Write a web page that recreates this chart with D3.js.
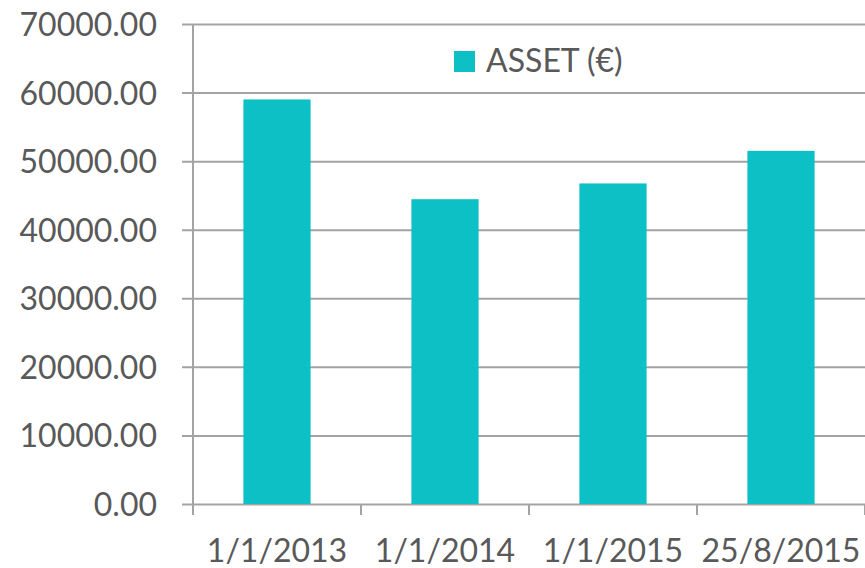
<!DOCTYPE html>
<html>
<head>
<meta charset="utf-8">
<script src="https://cdn.jsdelivr.net/npm/d3@7"></script>
<style>
  body { margin: 0; background: #fff; }
  text { font-family: Lato, "Open Sans", sans-serif; fill: #595959; }
</style>
</head>
<body>
<svg width="865" height="568"></svg>
<script>
var categories = ['1/1/2013', '1/1/2014', '1/1/2015', '25/8/2015'];
var assetValues = [59000, 44450, 46750, 51500];
var yTicks = [0, 10000, 20000, 30000, 40000, 50000, 60000, 70000];
var seriesName = 'ASSET (€)';

var svg = d3.select('svg');
var plotLeft = 193, plotRight = 865, plotTop = 24, plotBottom = 504;
var barColor = '#0CC0C5', gridColor = '#a3a3a3';

var x = d3.scaleBand()
          .domain(categories)
          .range([plotLeft, plotRight])
          .paddingInner(0.6)
          .paddingOuter(0.3);

var y = d3.scaleLinear()
          .domain([0, 70000])
          .range([plotBottom, plotTop]);

// gridlines + y labels
var yAxis = svg.append('g')
  .attr('transform', 'translate(' + plotLeft + ',0)')
  .call(d3.axisLeft(y).tickValues(yTicks).tickSize(11).tickPadding(25).tickFormat(d3.format('.2f')));
yAxis.select('.domain').remove();
yAxis.selectAll('line')
  .attr('x1', -11)
  .attr('x2', plotRight - plotLeft)
  .attr('stroke', gridColor)
  .attr('stroke-width', 2);
yAxis.selectAll('text')
  .style('font-size', '32px')
  .style('fill', '#595959')
  .attr('dy', '0.36em');

// vertical axis line
svg.append('line')
  .attr('x1', plotLeft).attr('x2', plotLeft)
  .attr('y1', plotTop).attr('y2', plotBottom + 11)
  .attr('stroke', gridColor)
  .attr('stroke-width', 2);

// category ticks at band edges
var edges = categories.map((c, i) => plotLeft + i * x.step());
edges.push(plotRight);
svg.selectAll('line.xtick')
  .data(edges)
  .enter()
  .append('line')
    .attr('class', 'xtick')
    .attr('x1', d => d).attr('x2', d => d)
    .attr('y1', plotBottom).attr('y2', plotBottom + 11)
    .attr('stroke', gridColor)
    .attr('stroke-width', 2);

svg.selectAll('rect.bar')
  .data(assetValues)
  .enter()
  .append('rect')
    .attr('class', 'bar')
    .attr('x', (d, i) => x(categories[i]))
    .attr('width', x.bandwidth())
    .attr('y', d => y(d))
    .attr('height', d => plotBottom - y(d))
    .style('fill', barColor);

svg.selectAll('text.xlabel')
  .data(categories)
  .enter()
  .append('text')
    .attr('class', 'xlabel')
    .attr('x', d => x(d) + x.bandwidth() / 2)
    .attr('y', 562)
    .attr('text-anchor', 'middle')
    .style('font-size', '32px')
    .text(d => d);

// legend
svg.append('rect')
  .attr('x', 454).attr('y', 51)
  .attr('width', 21).attr('height', 21)
  .style('fill', barColor);
svg.append('text')
  .attr('x', 486).attr('y', 72)
  .style('font-size', '32px')
  .text(seriesName);
</script>
</body>
</html>
